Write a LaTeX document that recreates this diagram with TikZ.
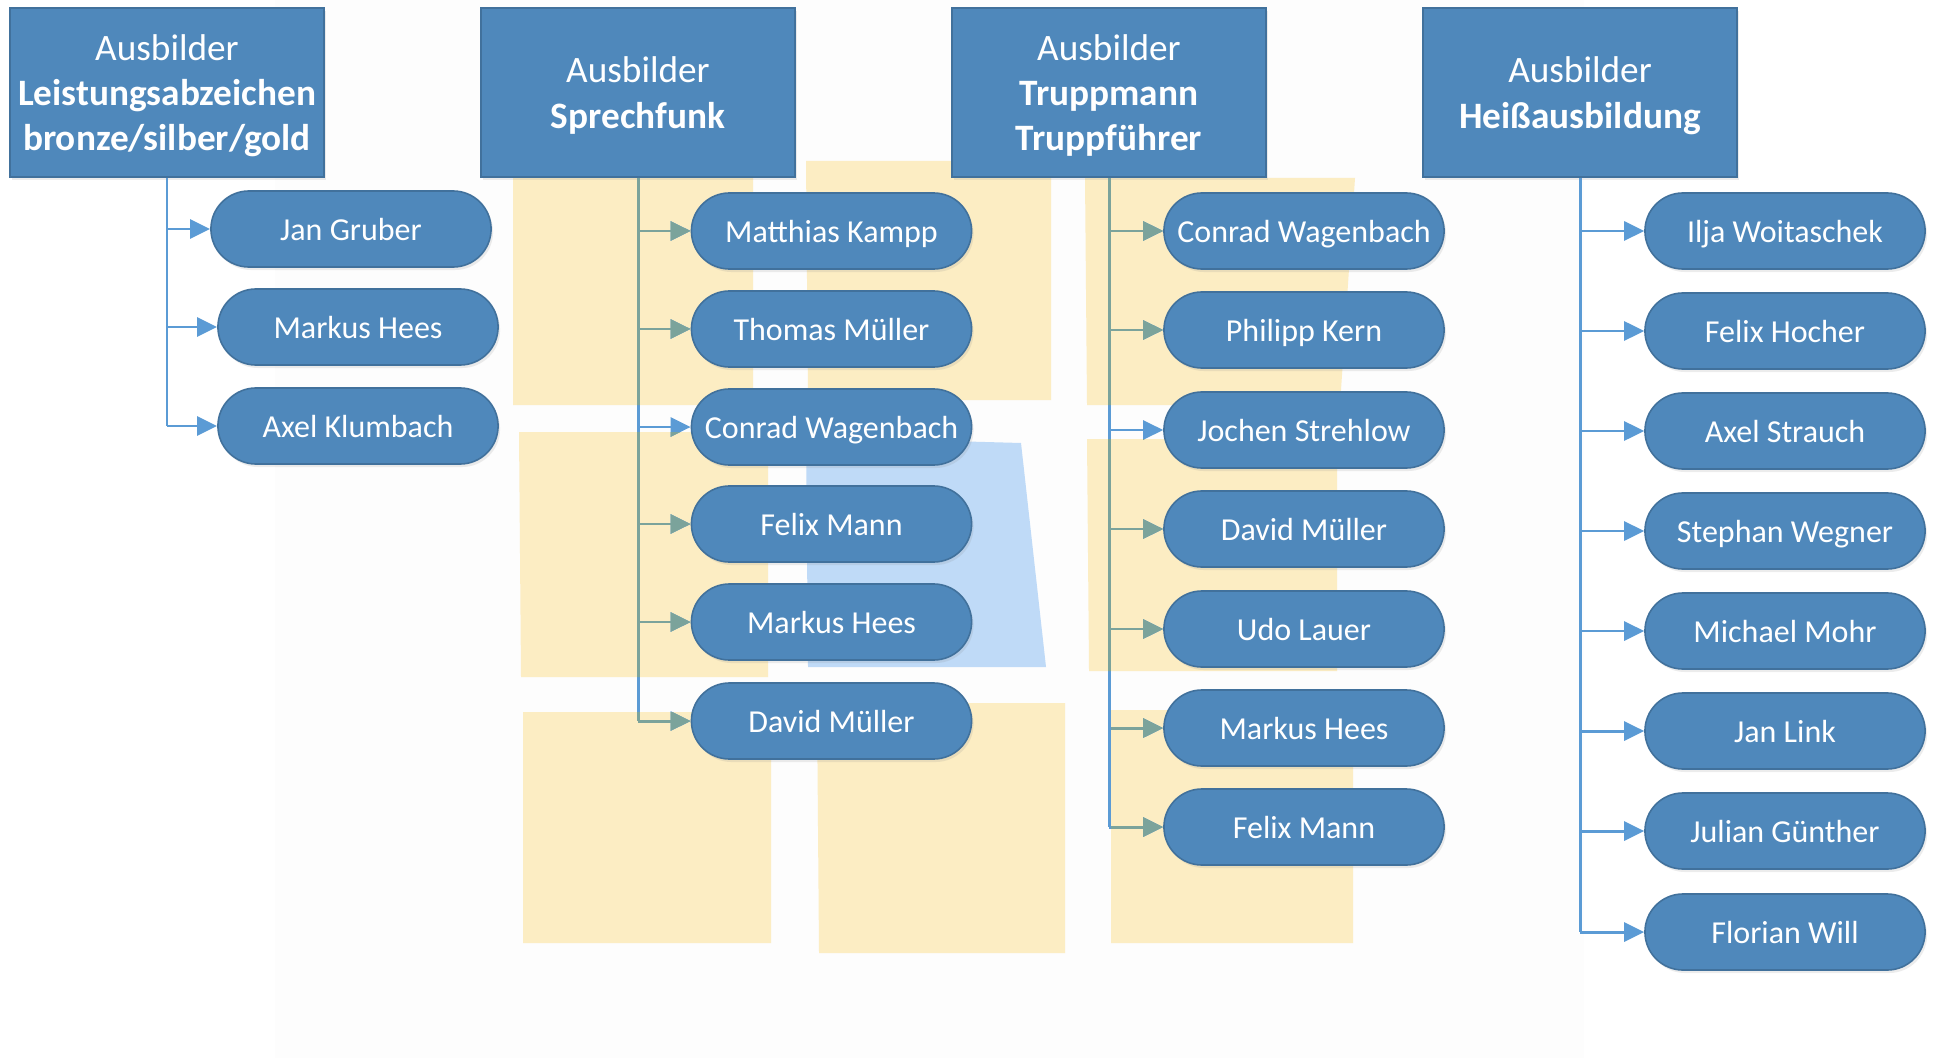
\documentclass[tikz,border=0pt]{standalone}
\usepackage{fontspec}
\setmainfont{Carlito}
\usetikzlibrary{arrows.meta,shadows}

\definecolor{boxblue}{HTML}{4F88BB}
\definecolor{boxedge}{HTML}{41719C}
\definecolor{linkblue}{HTML}{5B9BD5}
\definecolor{linkmuted}{HTML}{7BA39B}
\definecolor{paleyellow}{HTML}{FCEDC3}
\definecolor{paleblue}{HTML}{BFDAF7}

\tikzset{
  headbox/.style={draw=boxedge, line width=0.4pt, fill=boxblue, text=white,
    minimum width=3.14cm, minimum height=1.69cm, align=center, inner sep=0pt,
    text depth=0pt, font=\fontsize{10.6}{12.9}\selectfont,
    drop shadow={opacity=0.15, shadow xshift=0.02cm, shadow yshift=-0.03cm}},
  pill/.style={draw=boxedge, line width=0.45pt, fill=boxblue, text=white,
    minimum width=2.8cm, minimum height=0.76cm, rounded corners=0.38cm,
    inner sep=0pt, text height=0.8em, text depth=0.156em,
    font=\fontsize{9.1}{11}\selectfont,
    drop shadow={opacity=0.15, shadow xshift=0.02cm, shadow yshift=-0.03cm}},
  link/.style={line width=0.85pt},
  tip/.style={-{Triangle[length=0.2cm,width=0.19cm]}},
  patch/.style={fill=paleyellow, draw=none},
}

% trunks and branches of all four columns, in a given colour
\newcommand{\alllinks}[1]{%
  \draw[link,#1] (h1.south) -- (h1.south |- a3.west);
  \foreach \n in {a1,a2,a3} \draw[link,tip,#1] (h1.south |- \n.west) -- (\n.west);
  \draw[link,#1] (h2.south) -- (h2.south |- b6.west);
  \foreach \n in {b1,b2,b3,b4,b5,b6} \draw[link,tip,#1] (h2.south |- \n.west) -- (\n.west);
  \draw[link,#1] (h3.south) -- (h3.south |- c7.west);
  \foreach \n in {c1,c2,c3,c4,c5,c6,c7} \draw[link,tip,#1] (h3.south |- \n.west) -- (\n.west);
  \draw[link,#1] (h4.south) -- (h4.south |- d8.west);
  \foreach \n in {d1,d2,d3,d4,d5,d6,d7,d8} \draw[link,tip,#1] (h4.south |- \n.west) -- (\n.west);
}

% outline of the yellow sheets of the background photo
\newcommand{\sheets}{%
  (513,172) -- (753,172) -- (753,405) -- (513,405) -- cycle
  (806,161) -- (1051,161) -- (1051,400) -- (808,400) -- cycle
  (1085,178) -- (1355,178) -- (1340,405) -- (1087,405) -- cycle
  (519,432) -- (768,432) -- (768,677) -- (521,677) -- cycle
  (1087,439) -- (1337,439) -- (1337,671) -- (1089,671) -- cycle
  (523,712) -- (771,712) -- (771,943) -- (523,943) -- cycle
  (817,703) -- (1065,703) -- (1065,953) -- (819,953) -- cycle
  (1111,710) -- (1353,710) -- (1353,943) -- (1111,943) -- cycle}

\begin{document}
\begin{tikzpicture}[x=0.01cm, y=-0.01cm]
\useasboundingbox (0,0) rectangle (1937,1058);

% washed-out photo in the background
\fill[black!0.8] (275,0) rectangle (1584,1058);
\fill[patch] \sheets;
\fill[paleblue] (806,437) -- (1021,443) -- (1046,667) -- (808,667) -- cycle;

% headers
\node[headbox] (h1) at (167,92.5) {Ausbilder\\\textbf{Leistungsabzeichen}\\\textbf{bronze/silber/gold}};
\node[headbox] (h2) at (638,92.5) {Ausbilder\\\textbf{Sprechfunk}};
\node[headbox] (h3) at (1109,92.5) {Ausbilder\\\textbf{Truppmann}\\\textbf{Truppführer}};
\node[headbox] (h4) at (1580,92.5) {Ausbilder\\\textbf{Heißausbildung}};

% Leistungsabzeichen
\node[pill] (a1) at (351,229) {Jan Gruber};
\node[pill] (a2) at (358,327) {Markus Hees};
\node[pill] (a3) at (358,426) {Axel Klumbach};

% Sprechfunk
\node[pill] (b1) at (831.5,231) {Matthias Kampp};
\node[pill] (b2) at (831.5,329) {Thomas Müller};
\node[pill] (b3) at (831.5,427) {Conrad Wagenbach};
\node[pill] (b4) at (831.5,524) {Felix Mann};
\node[pill] (b5) at (831.5,622) {Markus Hees};
\node[pill] (b6) at (831.5,721) {David Müller};

% Truppmann / Truppführer
\node[pill] (c1) at (1304,231) {Conrad Wagenbach};
\node[pill] (c2) at (1304,330) {Philipp Kern};
\node[pill] (c3) at (1304,430) {Jochen Strehlow};
\node[pill] (c4) at (1304,529) {David Müller};
\node[pill] (c5) at (1304,629) {Udo Lauer};
\node[pill] (c6) at (1304,728) {Markus Hees};
\node[pill] (c7) at (1304,827) {Felix Mann};

% Heißausbildung
\node[pill] (d1) at (1785,231) {Ilja Woitaschek};
\node[pill] (d2) at (1785,331) {Felix Hocher};
\node[pill] (d3) at (1785,431) {Axel Strauch};
\node[pill] (d4) at (1785,531) {Stephan Wegner};
\node[pill] (d5) at (1785,631) {Michael Mohr};
\node[pill] (d6) at (1785,731) {Jan Link};
\node[pill] (d7) at (1785,831) {Julian Günther};
\node[pill] (d8) at (1785,932) {Florian Will};

% connectors: blue on white, muted where they cross the yellow sheets
\alllinks{draw=linkblue, fill=linkblue}
\begin{scope}
  \clip \sheets;
  \alllinks{draw=linkmuted, fill=linkmuted}
\end{scope}
\end{tikzpicture}
\end{document}
